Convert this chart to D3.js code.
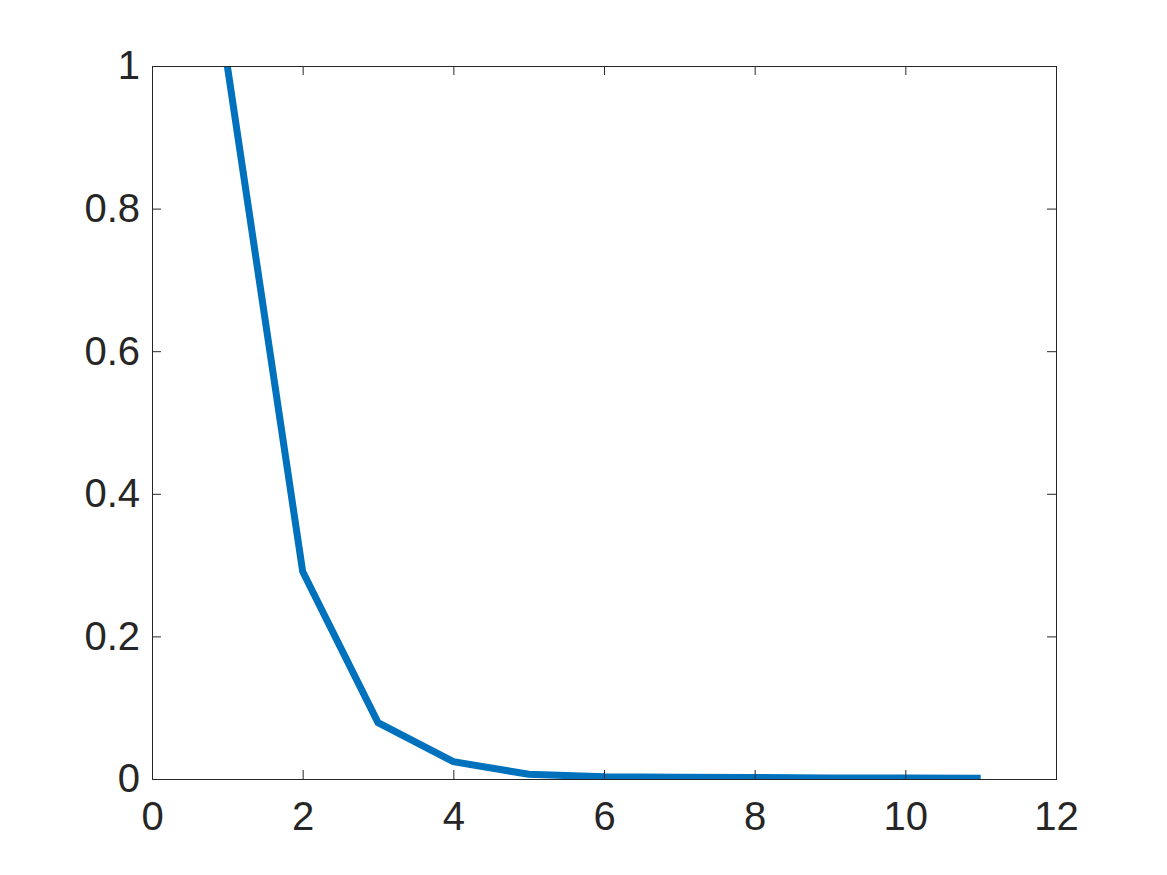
<!DOCTYPE html>
<html>
<head>
<meta charset="utf-8">
<script src="https://cdn.jsdelivr.net/npm/d3@7"></script>
<style>
  body { margin: 0; background: #fff; }
  svg { display: block; }
</style>
</head>
<body>
<svg id="chart" width="1167" height="875"></svg>
<script>
// values
var xs = [1, 2, 3, 4, 5, 6, 7, 8, 9, 10, 11];
var ys = [1, 0.291, 0.079, 0.0243, 0.0066, 0.003, 0.0025, 0.002, 0.0015, 0.0013, 0.0012];
var xTicks = [0, 2, 4, 6, 8, 10, 12];
var yTicks = [0, 0.2, 0.4, 0.6, 0.8, 1];

var margin = { top: 66, right: 111, bottom: 96, left: 152 };
var W = 1167, H = 875;
var w = W - margin.left - margin.right,
    h = H - margin.top - margin.bottom;

var axisColor = '#262626';
var font = '"Liberation Sans", Arial, Helvetica, sans-serif';

var svg = d3.select('#chart');
var g = svg.append('g')
    .attr('transform', 'translate(' + margin.left + ',' + margin.top + ')');

var x = d3.scaleLinear().domain([0, 12]).range([0, w]);
var y = d3.scaleLinear().domain([0, 1]).range([h, 0]);

svg.append('defs').append('clipPath').attr('id', 'plotclip')
  .append('rect').attr('width', w).attr('height', h);

// data line
var line = d3.line()
    .x(function (d, i) { return x(xs[i]); })
    .y(function (d) { return y(d); });

g.append('path')
    .datum(ys)
    .attr('clip-path', 'url(#plotclip)')
    .attr('fill', 'none')
    .attr('stroke', '#0072BD')
    .attr('stroke-width', 7)
    .attr('stroke-linejoin', 'miter')
    .attr('d', line);

// axes, ticks inward, mirrored on top and right
function styleAxis(sel) {
    sel.select('.domain').remove();
    sel.selectAll('line').attr('stroke', axisColor).attr('stroke-width', 1);
    sel.selectAll('text')
        .attr('fill', axisColor)
        .style('font-family', font)
        .style('font-size', '40px');
}

var tickLen = 9;

g.append('g')
    .attr('transform', 'translate(0,' + h + ')')
    .call(d3.axisBottom(x).tickValues(xTicks).tickSizeInner(-tickLen).tickPadding(23)
        .tickFormat(d3.format('d')))
    .call(styleAxis);

g.append('g')
    .call(d3.axisTop(x).tickValues(xTicks).tickSizeInner(-tickLen).tickFormat(''))
    .call(styleAxis);

g.append('g')
    .call(d3.axisLeft(y).tickValues(yTicks).tickSizeInner(-tickLen).tickPadding(12)
        .tickFormat(function (d) { return d === 0 || d === 1 ? d3.format('d')(d) : d3.format('.1f')(d); }))
    .call(styleAxis);

g.append('g')
    .attr('transform', 'translate(' + w + ',0)')
    .call(d3.axisRight(y).tickValues(yTicks).tickSizeInner(-tickLen).tickFormat(''))
    .call(styleAxis);

// box
g.append('rect')
    .attr('width', w)
    .attr('height', h)
    .attr('fill', 'none')
    .attr('stroke', axisColor)
    .attr('stroke-width', 1)
    .attr('shape-rendering', 'crispEdges');
</script>
</body>
</html>
